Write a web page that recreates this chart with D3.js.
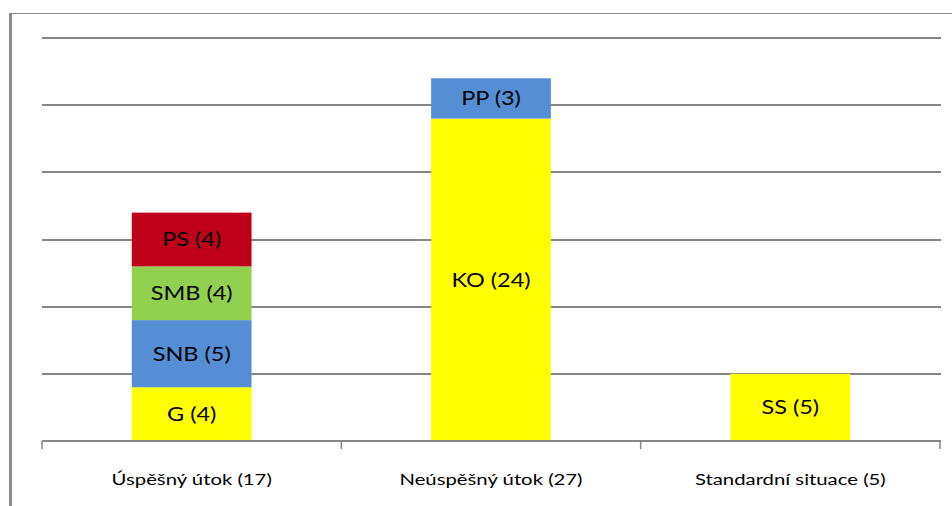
<!DOCTYPE html>
<html>
<head>
<meta charset="utf-8">
<script src="https://cdn.jsdelivr.net/npm/d3@7"></script>
<style>
  html, body { margin: 0; padding: 0; background: #ffffff; }
  svg { display: block; }
  text { font-family: "Lato", "Open Sans", sans-serif; fill: #000; }
</style>
</head>
<body>
<svg id="chart" width="952" height="506"></svg>
<script>
// ---- data ----
const categories = ["Úspěšný útok (17)", "Neúspěšný útok (27)", "Standardní situace (5)"];
const segmentNames = [["G", "SNB", "SMB", "PS"], ["KO", "PP"], ["SS"]];
const segmentValues = [[4, 5, 4, 4], [24, 3], [5]];
const segmentColorNames = ["G", "SNB", "SMB", "PS", "KO", "PP", "SS"];
const segmentColorValues = ["#FFFF00", "#558ED5", "#92D050", "#BE0019", "#FFFF00", "#558ED5", "#FFFF00"];
const yTicks = [0, 5, 10, 15, 20, 25, 30];

// ---- layout ----
const W = 952, H = 506;
const plot = { left: 42, right: 940, top: 38, bottom: 441 };
const svg = d3.select("#chart");

const x = d3.scaleBand().domain(categories).range([plot.left, plot.right]).paddingInner(0.6).paddingOuter(0.3);
const y = d3.scaleLinear().domain([0, 30]).range([plot.bottom, plot.top]);
const color = d3.scaleOrdinal().domain(segmentColorNames).range(segmentColorValues);

// frame (left + top)
svg.append("line").attr("x1", 9).attr("x2", W).attr("y1", 13.5).attr("y2", 13.5)
  .attr("stroke", "#8a8a8a").attr("stroke-width", 1);
svg.append("line").attr("x1", 10.5).attr("x2", 10.5).attr("y1", 13).attr("y2", H)
  .attr("stroke", "#8c8c8c").attr("stroke-width", 3);

// gridlines
svg.append("g").selectAll("line").data(yTicks.filter(d => d > 0)).join("line")
  .attr("x1", plot.left).attr("x2", plot.right + 1)
  .attr("y1", d => Math.round(y(d))).attr("y2", d => Math.round(y(d)))
  .attr("stroke", "#868686").attr("stroke-width", 2);

// stacked segments
const stacks = categories.map((c, i) => {
  let acc = 0;
  return segmentNames[i].map((n, j) => {
    const v = segmentValues[i][j];
    const s = { cat: c, name: n, value: v, y0: acc, y1: acc + v };
    acc += v;
    return s;
  });
}).flat();

const segG = svg.append("g");
segG.selectAll("rect").data(stacks).join("rect")
  .attr("x", d => x(d.cat))
  .attr("width", x.bandwidth())
  .attr("y", d => y(d.y1))
  .attr("height", d => y(d.y0) - y(d.y1))
  .attr("fill", d => color(d.name));

segG.selectAll("text").data(stacks).join("text")
  .attr("transform", d => `translate(${x(d.cat) + x.bandwidth() / 2},${(y(d.y0) + y(d.y1)) / 2}) scale(1.27,1)`)
  .attr("text-anchor", "middle")
  .attr("dominant-baseline", "central")
  .attr("font-size", 18.5)
  .text(d => `${d.name} (${d.value})`);

// x axis
const xAxis = svg.append("g").attr("transform", `translate(0,${plot.bottom})`);
xAxis.append("line").attr("x1", plot.left).attr("x2", plot.right + 1).attr("y1", 0).attr("y2", 0)
  .attr("stroke", "#868686").attr("stroke-width", 2);
const tickXs = [plot.left].concat(categories.map(c => x(c) + x.bandwidth() / 2 + x.step() / 2));
xAxis.selectAll("line.tick").data(tickXs).join("line").attr("class", "tick")
  .attr("x1", d => d).attr("x2", d => d).attr("y1", 0).attr("y2", 8)
  .attr("stroke", "#868686").attr("stroke-width", 1.5);
xAxis.selectAll("text").data(categories).join("text")
  .attr("transform", d => `translate(${x(d) + x.bandwidth() / 2},43.5) scale(1.27,1)`)
  .attr("text-anchor", "middle")
  .attr("font-size", 16)
  .text(d => d);
</script>
</body>
</html>
